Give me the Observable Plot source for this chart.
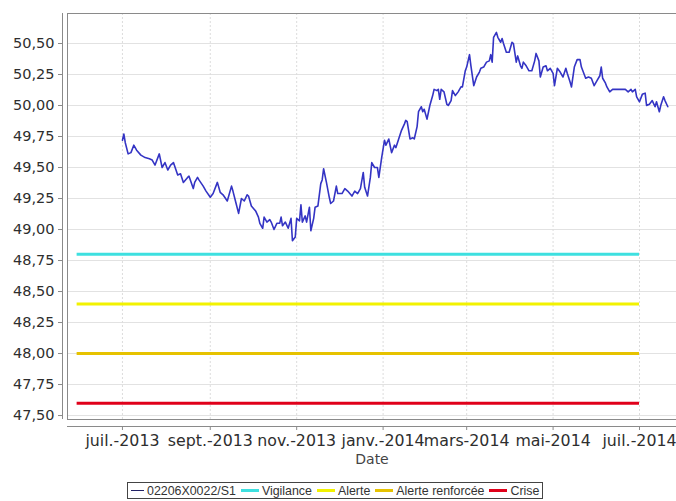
<!DOCTYPE html>
<html><head><meta charset="utf-8">
<script src="https://cdn.jsdelivr.net/npm/d3@7"></script>
<script src="https://cdn.jsdelivr.net/npm/@observablehq/plot@0.6"></script>
<style>
body{margin:0;background:#fff;}
#wrap{position:relative;width:676px;height:501px;overflow:hidden;background:#fff;}
#legend{position:absolute;left:127px;top:482px;height:15px;border:1px solid #444;display:flex;align-items:center;padding:0 3px;font:12.4px "Liberation Sans",Arial,sans-serif;color:#333;white-space:nowrap;box-sizing:content-box;}
.item{display:flex;align-items:center;margin-right:5px}
.item:last-child{margin-right:0}
.sym{display:inline-block;width:18px;height:3px;margin-right:3px}
.sym.thin{width:13px;height:1px}
</style></head>
<body><div id="wrap"><div id="chart"></div><div id="legend"></div></div>
<script>
const seriesName = "02206X0022/S1";
const dates = [
"2013-07-01","2013-07-02","2013-07-03","2013-07-05","2013-07-07","2013-07-09","2013-07-11","2013-07-14","2013-07-17","2013-07-20",
"2013-07-22","2013-07-24","2013-07-27","2013-07-29","2013-07-31","2013-08-02","2013-08-04","2013-08-06","2013-08-09","2013-08-11",
"2013-08-13","2013-08-16","2013-08-17","2013-08-20","2013-08-21","2013-08-23","2013-08-24","2013-08-27","2013-08-29","2013-09-01",
"2013-09-03","2013-09-06","2013-09-08","2013-09-10","2013-09-13","2013-09-16","2013-09-17","2013-09-19","2013-09-21","2013-09-23",
"2013-09-25","2013-09-27","2013-09-28","2013-09-30","2013-10-03","2013-10-05","2013-10-06","2013-10-08","2013-10-09","2013-10-11",
"2013-10-13","2013-10-14","2013-10-16","2013-10-18","2013-10-20","2013-10-21","2013-10-22","2013-10-24","2013-10-26","2013-10-28",
"2013-10-29","2013-10-31","2013-11-01","2013-11-03","2013-11-04","2013-11-05","2013-11-07","2013-11-08","2013-11-10","2013-11-11",
"2013-11-13","2013-11-14","2013-11-16","2013-11-18","2013-11-19","2013-11-20","2013-11-22","2013-11-24","2013-11-25","2013-11-27",
"2013-11-29","2013-11-30","2013-12-03","2013-12-05","2013-12-07","2013-12-10","2013-12-12","2013-12-14","2013-12-16","2013-12-18",
"2013-12-19","2013-12-21","2013-12-23","2013-12-24","2013-12-26","2013-12-28","2013-12-29","2013-12-31","2014-01-02","2014-01-03",
"2014-01-05","2014-01-07","2014-01-09","2014-01-10","2014-01-12","2014-01-14","2014-01-16","2014-01-17","2014-01-18","2014-01-20",
"2014-01-22","2014-01-23","2014-01-25","2014-01-26","2014-01-28","2014-01-29","2014-01-30","2014-02-01","2014-02-03","2014-02-05",
"2014-02-06","2014-02-08","2014-02-09","2014-02-10","2014-02-11","2014-02-13","2014-02-15","2014-02-16","2014-02-18","2014-02-19",
"2014-02-21","2014-02-23","2014-02-25","2014-02-26","2014-02-28","2014-03-01","2014-03-03","2014-03-04","2014-03-06","2014-03-08",
"2014-03-10","2014-03-11","2014-03-13","2014-03-15","2014-03-17","2014-03-18","2014-03-19","2014-03-20","2014-03-22","2014-03-23",
"2014-03-25","2014-03-26","2014-03-27","2014-03-29","2014-03-31","2014-04-02","2014-04-03","2014-04-05","2014-04-06","2014-04-08",
"2014-04-09","2014-04-10","2014-04-12","2014-04-14","2014-04-16","2014-04-18","2014-04-19","2014-04-21","2014-04-22","2014-04-24",
"2014-04-26","2014-04-27","2014-04-29","2014-05-01","2014-05-02","2014-05-04","2014-05-06","2014-05-08","2014-05-10","2014-05-11",
"2014-05-13","2014-05-14","2014-05-16","2014-05-18","2014-05-20","2014-05-21","2014-05-24","2014-05-26","2014-05-28","2014-05-30",
"2014-06-01","2014-06-03","2014-06-04","2014-06-05","2014-06-07","2014-06-08","2014-06-10","2014-06-12","2014-06-14","2014-06-18",
"2014-06-21","2014-06-23","2014-06-25","2014-06-26","2014-06-28","2014-06-29","2014-07-01","2014-07-03","2014-07-05","2014-07-06",
"2014-07-08","2014-07-10","2014-07-12","2014-07-13","2014-07-15","2014-07-16","2014-07-18","2014-07-19","2014-07-21"
];
const levels = [
49.72,49.77,49.70,49.61,49.62,49.68,49.64,49.60,49.58,49.57,
49.56,49.52,49.61,49.50,49.54,49.48,49.52,49.54,49.44,49.45,
49.38,49.42,49.43,49.33,49.38,49.42,49.40,49.35,49.31,49.26,
49.29,49.38,49.30,49.28,49.23,49.35,49.31,49.22,49.13,49.25,
49.23,49.28,49.27,49.19,49.15,49.10,49.05,49.01,49.10,49.06,
49.08,49.06,49.00,49.05,49.05,49.10,49.03,49.06,49.01,49.09,
48.91,48.94,49.09,49.07,49.20,49.06,49.11,49.06,49.18,48.99,
49.09,49.18,49.19,49.37,49.40,49.49,49.38,49.26,49.21,49.23,
49.35,49.29,49.29,49.33,49.31,49.27,49.31,49.29,49.33,49.46,
49.34,49.27,49.42,49.54,49.50,49.50,49.42,49.58,49.72,49.68,
49.73,49.62,49.68,49.66,49.73,49.80,49.85,49.88,49.87,49.73,
49.74,49.73,49.83,49.95,49.99,49.95,49.97,49.89,50.00,50.08,
50.13,50.12,50.13,50.05,50.13,50.11,50.01,50.00,50.04,50.12,
50.08,50.11,50.15,50.15,50.28,50.31,50.41,50.32,50.16,50.23,
50.27,50.30,50.31,50.35,50.36,50.41,50.35,50.55,50.59,50.55,
50.51,50.54,50.50,50.43,50.43,50.51,50.50,50.35,50.40,50.32,
50.30,50.35,50.32,50.28,50.28,50.36,50.42,50.36,50.23,50.31,
50.32,50.28,50.30,50.26,50.16,50.30,50.27,50.23,50.30,50.26,
50.19,50.15,50.31,50.37,50.37,50.31,50.22,50.23,50.22,50.16,
50.20,50.24,50.31,50.22,50.18,50.15,50.11,50.13,50.13,50.13,
50.13,50.11,50.13,50.11,50.13,50.07,50.03,50.09,50.10,50.00,
50.01,50.04,49.99,50.03,49.95,50.00,50.07,50.04,49.99
];
const thresholdNames = ["Vigilance", "Alerte", "Alerte renforcée", "Crise"];
const thresholdValues = [48.80, 48.40, 48.00, 47.60];
const thresholdPeriod = ["2013-05-30", "2014-07-01"];
const yTicks = [47.50, 47.75, 48.00, 48.25, 48.50, 48.75, 49.00, 49.25, 49.50, 49.75, 50.00, 50.25, 50.50];
const xTickDates = ["2013-07-01", "2013-09-01", "2013-11-01", "2014-01-01", "2014-03-01", "2014-05-01", "2014-07-01"];
const xTickLabels = ["juil.-2013", "sept.-2013", "nov.-2013", "janv.-2014", "mars-2014", "mai-2014", "juil.-2014"];
const xLabel = "Date";

// styles
const seriesColor = "#3434c4";
const seriesLegendColor = "#222266";
const thresholdColors = ["#3ee0e0", "#f2f200", "#e6c200", "#e0001a"];
const xDomain = [new Date(Date.UTC(2013, 4, 23, 5)), new Date(Date.UTC(2014, 6, 27, 3))];
const yDomain = [47.468, 50.742];

const series = dates.map((d, i) => ({date: new Date(d), value: levels[i]}));
const thresholds = thresholdNames.map((n, i) => ({name: n, value: thresholdValues[i], x1: new Date(thresholdPeriod[0]), x2: new Date(thresholdPeriod[1])}));
const xTicks = xTickDates.map(d => new Date(d));
const labelMap = new Map(xTicks.map((d, i) => [+d, xTickLabels[i]]));
const fmtY = d => d.toFixed(2).replace(".", ",");

const chart = Plot.plot({
  width: 676,
  height: 478,
  marginTop: 13,
  marginBottom: 59,
  marginLeft: 67,
  marginRight: 0,
  style: {fontFamily: "'DejaVu Sans', sans-serif", fontSize: "15px", color: "#333", background: "#fff", overflow: "visible"},
  x: {type: "utc", domain: xDomain},
  y: {domain: yDomain},
  color: {domain: thresholdNames, range: thresholdColors},
  marks: [
    Plot.gridY(yTicks, {stroke: "#e2e2e2", strokeOpacity: 1}),
    Plot.gridX(xTicks, {stroke: "#dcdcdc", strokeOpacity: 1, strokeDasharray: "2,2"}),
    Plot.ruleY([yDomain[1], yDomain[0]], {stroke: "#8a8a8a"}),
    Plot.ruleX([xDomain[0]], {stroke: "#8a8a8a"}),
    Plot.ruleX([xDomain[0]], {stroke: "#8a8a8a", dx: -5}),
    Plot.ruleY([yDomain[0]], {stroke: "#8a8a8a", dy: 7}),
    Plot.axisY(yTicks, {tickSize: 4, tickPadding: 4, dx: -5, tickFormat: fmtY, label: null, stroke: "#8a8a8a", fill: "#2e2e2e", fontSize: 14.5}),
    Plot.axisX(xTicks, {tickSize: 4, tickPadding: 4, dy: 7, tickFormat: d => labelMap.get(+d), label: null, stroke: "#8a8a8a", fill: "#2e2e2e", fontSize: 15.8}),
    Plot.text([xLabel], {frameAnchor: "bottom", dy: 44, text: d => d, fill: "#444", fontSize: 14}),
    Plot.ruleY(thresholds, {y: "value", x1: "x1", x2: "x2", stroke: "name", strokeWidth: 3}),
    Plot.line(series, {x: "date", y: "value", stroke: seriesColor, strokeWidth: 1.6})
  ]
});
document.getElementById("chart").appendChild(chart);

const legend = document.getElementById("legend");
const items = [{name: seriesName, color: seriesLegendColor, thin: true}]
  .concat(thresholdNames.map((n, i) => ({name: n, color: thresholdColors[i], thin: false})));
for (const it of items) {
  const el = document.createElement("span");
  el.className = "item";
  const s = document.createElement("span");
  s.className = "sym" + (it.thin ? " thin" : "");
  s.style.background = it.color;
  el.appendChild(s);
  el.appendChild(document.createTextNode(it.name));
  legend.appendChild(el);
}
</script>
</body></html>
